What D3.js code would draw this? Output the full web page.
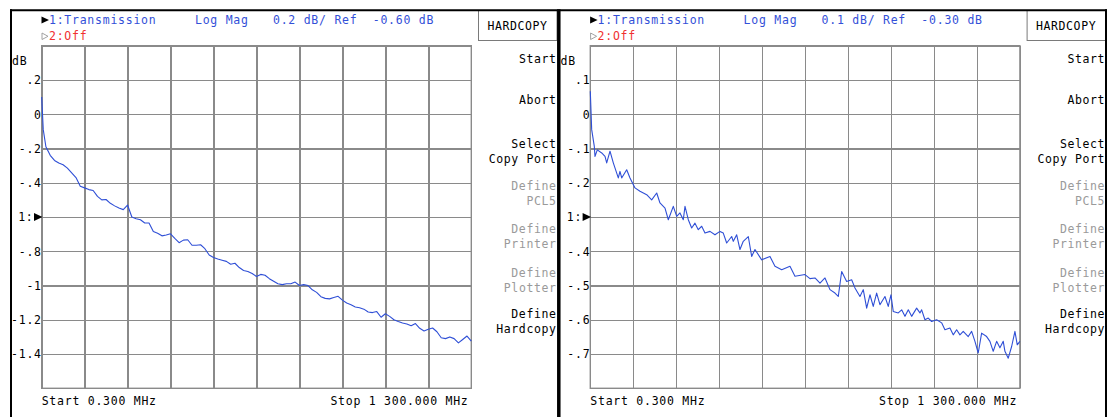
<!DOCTYPE html>
<html><head><meta charset="utf-8">
<script src="https://cdn.jsdelivr.net/npm/d3@7"></script>
<style>
html,body{margin:0;padding:0;background:#fff;}
svg{display:block;}
text{font-family:"DejaVu Sans Mono",monospace;font-size:11.5px;letter-spacing:0.75px;}
</style></head>
<body>
<svg id="chart" width="1107" height="417"></svg>
<script>
// ---------- data ----------
const panelTitles = ["1:Transmission", "1:Transmission"];
const panelFormats = ["Log Mag", "Log Mag"];
const panelScales = ["0.2 dB/ Ref  -0.60 dB", "0.1 dB/ Ref  -0.30 dB"];
const startLabel = "Start 0.300 MHz";
const stopLabel = "Stop 1 300.000 MHz";
const freqStart = 0.3, freqStop = 1300;
const xGridFreqs = [0.3, 130.27, 260.24, 390.21, 520.18, 650.15, 780.12, 910.09, 1040.06, 1170.03, 1300];

const leftScalePerDiv = 0.2, leftRef = -0.6;
const rightScalePerDiv = 0.1, rightRef = -0.3;
const leftTickValues = [0.2, 0, -0.2, -0.4, -0.6, -0.8, -1, -1.2, -1.4];
const leftTickLabels = [".2", "0", "-.2", "-.4", "1:", "-.8", "-1", "-1.2", "-1.4"];
const rightTickValues = [0.1, 0, -0.1, -0.2, -0.3, -0.4, -0.5, -0.6, -0.7];
const rightTickLabels = [".1", "0", "-.1", "-.2", "1:", "-.4", "-.5", "-.6", "-.7"];

const softkeys = [["Start"], ["Abort"], ["Select", "Copy Port"], ["Define", "PCL5"], ["Define", "Printer"], ["Define", "Plotter"], ["Define", "Hardcopy"]];
const softkeyEnabled = [true, true, true, false, false, false, true];

const leftFreq = [0.3, 5, 13, 26, 39, 52, 65, 78, 91, 104, 117, 130, 143, 156, 169, 182, 195, 208, 221, 234, 247, 260, 273, 286, 299, 312, 325, 338, 351, 364, 377, 390, 403, 416, 429, 442, 455, 468, 481, 494, 507, 520, 533, 546, 559, 572, 585, 598, 611, 624, 637, 650, 663, 676, 689, 702, 715, 728, 741, 754, 767, 780, 793, 806, 819, 832, 845, 858, 871, 884, 897, 910, 923, 936, 949, 962, 975, 988, 1001, 1014, 1027, 1040, 1053, 1066, 1079, 1092, 1105, 1118, 1131, 1144, 1157, 1170, 1183, 1196, 1209, 1222, 1235, 1248, 1261, 1274, 1287, 1300];
const leftDb = [0.10, -0.09, -0.19, -0.24, -0.27, -0.285, -0.295, -0.315, -0.343, -0.37, -0.42, -0.43, -0.44, -0.445, -0.48, -0.50, -0.498, -0.52, -0.535, -0.548, -0.557, -0.53, -0.60, -0.61, -0.616, -0.635, -0.635, -0.685, -0.695, -0.71, -0.705, -0.698, -0.725, -0.75, -0.735, -0.733, -0.765, -0.765, -0.762, -0.785, -0.822, -0.836, -0.845, -0.852, -0.859, -0.876, -0.87, -0.895, -0.912, -0.918, -0.93, -0.947, -0.935, -0.94, -0.96, -0.975, -0.99, -0.995, -0.99, -0.99, -0.98, -1.0, -0.995, -1.0, -1.025, -1.04, -1.065, -1.075, -1.078, -1.07, -1.063, -1.085, -1.102, -1.112, -1.125, -1.13, -1.138, -1.155, -1.158, -1.152, -1.185, -1.165, -1.18, -1.2, -1.21, -1.219, -1.225, -1.235, -1.222, -1.25, -1.265, -1.255, -1.248, -1.27, -1.305, -1.31, -1.30, -1.31, -1.335, -1.315, -1.295, -1.325];

const rightFreq = [0.3, 4.5, 12.4, 14.5, 21.5, 34.8, 44.8, 49.9, 59.9, 69.9, 85, 90.1, 95.3, 110.4, 120.4, 135.5, 150.6, 170.9, 186, 201.2, 211.1, 226.3, 236.3, 251.4, 261.7, 271.6, 281.6, 286.8, 296.8, 307, 317, 327, 337.3, 347.3, 362.4, 377.5, 392.6, 402.6, 412.9, 428, 432.9, 443.2, 453.1, 463.1, 478.3, 488.5, 498.5, 518.8, 543.9, 559, 579.3, 604.4, 619.5, 649.8, 664.9, 680, 695.2, 710.3, 725.4, 740.5, 750.5, 760.8, 775.9, 791, 801, 816.1, 826.1, 836.4, 846.4, 856.3, 866.6, 876.6, 891.7, 901.7, 909.9, 916.9, 932, 942.3, 952.3, 962.3, 972.5, 987.6, 997.6, 1002.8, 1012.7, 1022.7, 1033, 1048.1, 1063.2, 1073.2, 1088.3, 1098.3, 1108.6, 1118.6, 1128.6, 1143.7, 1154, 1164, 1173.9, 1184.2, 1199.4, 1209.3, 1219.3, 1229.6, 1239.6, 1249.6, 1254.7, 1264.7, 1275, 1285, 1292, 1300];
const rightDb = [0.067, -0.045, -0.094, -0.123, -0.104, -0.113, -0.123, -0.142, -0.108, -0.142, -0.186, -0.167, -0.186, -0.162, -0.186, -0.215, -0.225, -0.235, -0.25, -0.23, -0.259, -0.274, -0.308, -0.269, -0.298, -0.288, -0.308, -0.269, -0.308, -0.332, -0.318, -0.337, -0.327, -0.347, -0.342, -0.352, -0.342, -0.347, -0.376, -0.357, -0.371, -0.352, -0.395, -0.371, -0.357, -0.415, -0.395, -0.425, -0.415, -0.444, -0.454, -0.444, -0.473, -0.468, -0.48, -0.478, -0.493, -0.478, -0.512, -0.522, -0.532, -0.459, -0.488, -0.483, -0.507, -0.532, -0.512, -0.566, -0.527, -0.561, -0.522, -0.556, -0.532, -0.561, -0.527, -0.576, -0.58, -0.571, -0.59, -0.571, -0.59, -0.566, -0.58, -0.571, -0.6, -0.595, -0.605, -0.6, -0.609, -0.629, -0.624, -0.644, -0.629, -0.644, -0.634, -0.649, -0.634, -0.663, -0.697, -0.639, -0.649, -0.663, -0.692, -0.663, -0.682, -0.663, -0.692, -0.712, -0.678, -0.634, -0.673, -0.663];

// ---------- drawing ----------
const svg = d3.select("#chart");
const BLUE = "#3350d8", TRACE = "#2f4fd6", RED = "#f03030", GRID = "#8a8a8a", GRAYTXT = "#9a9a9a";

const panels = [
  {dx: 0, title: panelTitles[0], fmt: panelFormats[0], sc: panelScales[0], per: leftScalePerDiv, ref: leftRef, tv: leftTickValues, tl: leftTickLabels, f: leftFreq, v: leftDb},
  {dx: 548.6, title: panelTitles[1], fmt: panelFormats[1], sc: panelScales[1], per: rightScalePerDiv, ref: rightRef, tv: rightTickValues, tl: rightTickLabels, f: rightFreq, v: rightDb}
];

const PL = 41.7, PR = 471.3, PT = 45.7, PB = 388.3;

panels.forEach(p => {
  const g = svg.append("g").attr("transform", `translate(${p.dx},0)`);
  const x = d3.scaleLinear().domain([freqStart, freqStop]).range([PL, PR]);
  const y = d3.scaleLinear().domain([p.ref - 5 * p.per, p.ref + 5 * p.per]).range([PB, PT]);

  // grid via axes
  const yGridVals = d3.range(11).map(i => p.ref - 5 * p.per + i * p.per);
  const gx = g.append("g").attr("transform", `translate(0,${PB})`)
    .call(d3.axisBottom(x).tickValues(xGridFreqs).tickSize(-(PB - PT)).tickFormat(""));
  const gy = g.append("g").attr("transform", `translate(${PL},0)`)
    .call(d3.axisLeft(y).tickValues(yGridVals).tickSize(-(PR - PL)).tickFormat(""));
  [gx, gy].forEach(a => {
    a.select(".domain").remove();
    a.selectAll("line").attr("stroke", GRID).attr("stroke-width", 1.4).attr("shape-rendering", "crispEdges");
  });
  g.append("rect").attr("x", PL).attr("y", PT).attr("width", PR - PL).attr("height", PB - PT)
    .attr("fill", "none").attr("stroke", GRID).attr("stroke-width", 1.4);

  // trace
  const pts = p.f.map((fr, i) => [fr, p.v[i]]);
  g.append("path").datum(pts)
    .attr("d", d3.line().x(d => x(d[0])).y(d => y(d[1])))
    .attr("fill", "none").attr("stroke", TRACE).attr("stroke-width", 1.1).attr("stroke-linejoin", "round");

  // header
  g.append("path").attr("d", "M41.5,16.5 L49,20 L41.5,23.5 Z").attr("fill", "#000");
  g.append("text").attr("x", 49).attr("y", 24).attr("fill", BLUE).text(p.title);
  g.append("text").attr("x", 195).attr("y", 24).attr("fill", BLUE).text(p.fmt);
  g.append("text").attr("x", 273).attr("y", 24).attr("fill", BLUE).attr("xml:space", "preserve").style("white-space", "pre").text(p.sc);
  g.append("path").attr("d", "M42,33 L48,36.3 L42,39.5 Z").attr("fill", "none").attr("stroke", "#999").attr("stroke-width", 0.9);
  g.append("text").attr("x", 49).attr("y", 40).attr("fill", RED).text("2:Off");

  // y labels
  g.append("text").attr("x", 12).attr("y", 65).attr("fill", "#000").text("dB");
  p.tv.forEach((val, i) => {
    const isRef = Math.abs(val - p.ref) < 1e-9;
    g.append("text").attr("x", isRef ? 33.5 : 41.8).attr("y", y(val) + 4.3)
      .attr("text-anchor", "end").attr("fill", "#000").text(p.tl[i]);
    if (isRef) {
      g.append("path").attr("d", `M34,${y(val) - 4} L42.5,${y(val)} L34,${y(val) + 4} Z`).attr("fill", "#000");
    }
  });

  // bottom labels
  g.append("text").attr("x", 41.7).attr("y", 405).attr("fill", "#000").text(startLabel);
  g.append("text").attr("x", 468.5).attr("y", 405).attr("text-anchor", "end").attr("fill", "#000").text(stopLabel);

  // softkey menu
  g.append("rect").attr("x", 478.5).attr("y", 10.5).attr("width", 78.5).attr("height", 30)
    .attr("fill", "#fff").attr("stroke", "#7a7a7a").attr("stroke-width", 1);
  g.append("text").attr("x", 517.5).attr("y", 29.5).attr("text-anchor", "middle").attr("fill", "#000")
    .style("letter-spacing", "0.6px").text("HARDCOPY");
  const skBase = [62.5, 104, 148.3, 190, 233.3, 276.5, 318.3];
  softkeys.forEach((lines, i) => {
    lines.forEach((ln, j) => {
      g.append("text").attr("x", 556.5).attr("y", skBase[i] + j * 15)
        .attr("text-anchor", "end").attr("fill", softkeyEnabled[i] ? "#000" : GRAYTXT)
        .style("letter-spacing", "0.6px").text(ln);
    });
  });
});

// frames
svg.append("line").attr("x1", 10).attr("x2", 1107).attr("y1", 10.3).attr("y2", 10.3).attr("stroke", "#000").attr("stroke-width", 2);
svg.append("line").attr("x1", 11).attr("x2", 11).attr("y1", 9.3).attr("y2", 417).attr("stroke", "#000").attr("stroke-width", 2);
svg.append("line").attr("x1", 558.8).attr("x2", 558.8).attr("y1", 9.3).attr("y2", 417).attr("stroke", "#000").attr("stroke-width", 3.5);
svg.append("line").attr("x1", 1106).attr("x2", 1106).attr("y1", 9.3).attr("y2", 417).attr("stroke", "#000").attr("stroke-width", 2);
</script>
</body></html>
